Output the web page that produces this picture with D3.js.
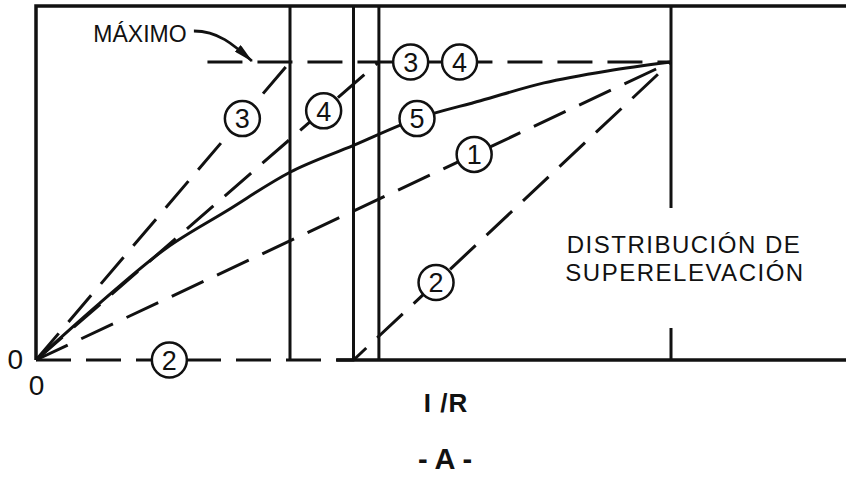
<!DOCTYPE html>
<html>
<head>
<meta charset="utf-8">
<script src="https://cdn.jsdelivr.net/npm/d3@7"></script>
<style>
  body { margin: 0; background: #fff; }
  svg { display: block; font-family: "Liberation Sans", Arial, sans-serif; }
</style>
</head>
<body>
<div id="chart"></div>
<script>
// Tick labels at the origin
const xTickLabels = ["0"];
const yTickLabels = ["0"];

// 1/R where the vertical reference lines stand (0-100 = 0 to 1/R at max superelevation)
const divisions = [40, 50, 54];
const divisionEnd = 100;

// Superelevation distribution methods (x = 1/R, y = e, both in % of max)
const curve1 = [[0, 0], [100, 100]];
const curve2 = [[0, 0], [50, 0], [100, 100]];
const curve3 = [[0, 0], [40, 100]];
const curve4 = [[0, 0], [54, 100]];
const curve5 = [[0, 0], [10, 19], [20.5, 37.5], [30, 50], [40, 63], [50, 72], [60, 81], [70, 87], [80, 93], [90, 97], [100, 100]];
const maxLine = [[27, 100], [100, 100]];

// Circled curve numbers
const labelIds = ["3", "4", "3", "4", "5", "1", "2", "2"];
const labelX = [32.5, 45.3, 59, 66.7, 60, 69, 63, 21];
const labelY = [81, 83.6, 100, 100, 81, 69, 26, 0];

const width = 846, height = 477;
const frameTop = 6;

const x = d3.scaleLinear().domain([0, 100]).range([36, 671]);
const y = d3.scaleLinear().domain([0, 100]).range([360, 62]);

const svg = d3.select("#chart")
    .append("svg")
    .attr("width", width)
    .attr("height", height);

const ink = "#111";

// Frame (left and top, bottom solid part)
const frame = svg.append("g")
    .attr("fill", "none")
    .attr("stroke", ink)
    .attr("stroke-width", 3.5);
frame.append("path").attr("d", `M${x(0)},${y(0)}V${frameTop}H${width}`);
frame.append("path").attr("d", `M${x(47.3)},${y(0)}H${width}`);

// Vertical reference lines
svg.append("g")
    .selectAll("line")
    .data(divisions)
    .join("line")
    .attr("x1", d => x(d)).attr("x2", d => x(d))
    .attr("y1", frameTop).attr("y2", y(0))
    .attr("stroke", ink)
    .attr("stroke-width", 3);

// Line at the end, broken around the text
const textTop = 208, textBottom = 328;
svg.append("path")
    .attr("d", `M${x(divisionEnd)},${frameTop}V${textTop}M${x(divisionEnd)},${textBottom}V${y(0)}`)
    .attr("fill", "none")
    .attr("stroke", ink)
    .attr("stroke-width", 3);

// Curves
const line = d3.line().x(d => x(d[0])).y(d => y(d[1]));
const dashed = [curve1, curve2, curve3, curve4, maxLine];
svg.append("g")
    .selectAll("path")
    .data(dashed)
    .join("path")
    .attr("d", line)
    .attr("fill", "none")
    .attr("stroke", ink)
    .attr("stroke-width", 3)
    .attr("stroke-dasharray", "35,15");

svg.append("path")
    .attr("d", line.curve(d3.curveMonotoneX)(curve5))
    .attr("fill", "none")
    .attr("stroke", ink)
    .attr("stroke-width", 3);

// Circled labels
const labels = svg.append("g")
    .selectAll("g")
    .data(labelIds.map((id, i) => ({ id, x: labelX[i], y: labelY[i] })))
    .join("g")
    .attr("transform", d => `translate(${x(d.x)},${y(d.y)})`);
labels.append("circle")
    .attr("r", 17.5)
    .attr("fill", "#fff")
    .attr("stroke", ink)
    .attr("stroke-width", 2.5);
labels.append("text")
    .attr("text-anchor", "middle")
    .attr("dy", "0.36em")
    .style("font-size", "27px")
    .attr("fill", ink)
    .text(d => d.id);

// Origin tick labels
const xAxis = svg.append("g")
    .attr("transform", `translate(0,${y(0)})`)
    .call(d3.axisBottom(x).tickValues([0]).tickFormat((d, i) => xTickLabels[i]).tickSize(0).tickPadding(15));
const yAxis = svg.append("g")
    .attr("transform", `translate(${x(0)},0)`)
    .call(d3.axisLeft(y).tickValues([0]).tickFormat((d, i) => yTickLabels[i]).tickSize(0).tickPadding(13));
[xAxis, yAxis].forEach(g => {
    g.select(".domain").remove();
    g.attr("font-family", null).attr("font-size", null);
    g.selectAll("text").style("font-size", "28px").attr("fill", ink);
});

// Axis title
svg.append("text")
    .attr("x", 446).attr("y", 412)
    .attr("text-anchor", "middle")
    .style("font-size", "26px")
    .style("font-weight", "bold")
    .style("letter-spacing", "1px")
    .attr("fill", ink)
    .text("I /R");

svg.append("text")
    .attr("x", 445).attr("y", 469)
    .attr("text-anchor", "middle")
    .style("font-size", "29px")
    .style("font-weight", "bold")
    .attr("fill", ink)
    .text("- A -");

// Region label
const region = svg.append("text")
    .attr("text-anchor", "middle")
    .style("font-size", "24px")
    .style("letter-spacing", "1.5px")
    .attr("fill", ink);
region.append("tspan").attr("x", 684).attr("y", 253).text("DISTRIBUCIÓN DE");
region.append("tspan").attr("x", 685).attr("y", 281).text("SUPERELEVACIÓN");

// MÁXIMO annotation
svg.append("defs").append("marker")
    .attr("id", "arrow")
    .attr("viewBox", "0 0 20 9")
    .attr("refX", 19).attr("refY", 4.5)
    .attr("markerWidth", 20).attr("markerHeight", 9)
    .attr("markerUnits", "userSpaceOnUse")
    .attr("orient", "auto")
    .append("path")
    .attr("d", "M0,0L20,4.5L0,9Z")
    .attr("fill", ink);

const tipX = x(34), tipY = y(100) - 1;
svg.append("text")
    .attr("x", 140).attr("y", 42)
    .attr("text-anchor", "middle")
    .style("font-size", "23px")
    .attr("fill", ink)
    .text("MÁXIMO");
svg.append("path")
    .attr("d", `M${tipX - 58},${tipY - 30}C${tipX - 34},${tipY - 30} ${tipX - 19},${tipY - 17} ${tipX},${tipY}`)
    .attr("fill", "none")
    .attr("stroke", ink)
    .attr("stroke-width", 2.8)
    .attr("marker-end", "url(#arrow)");
</script>
</body>
</html>
